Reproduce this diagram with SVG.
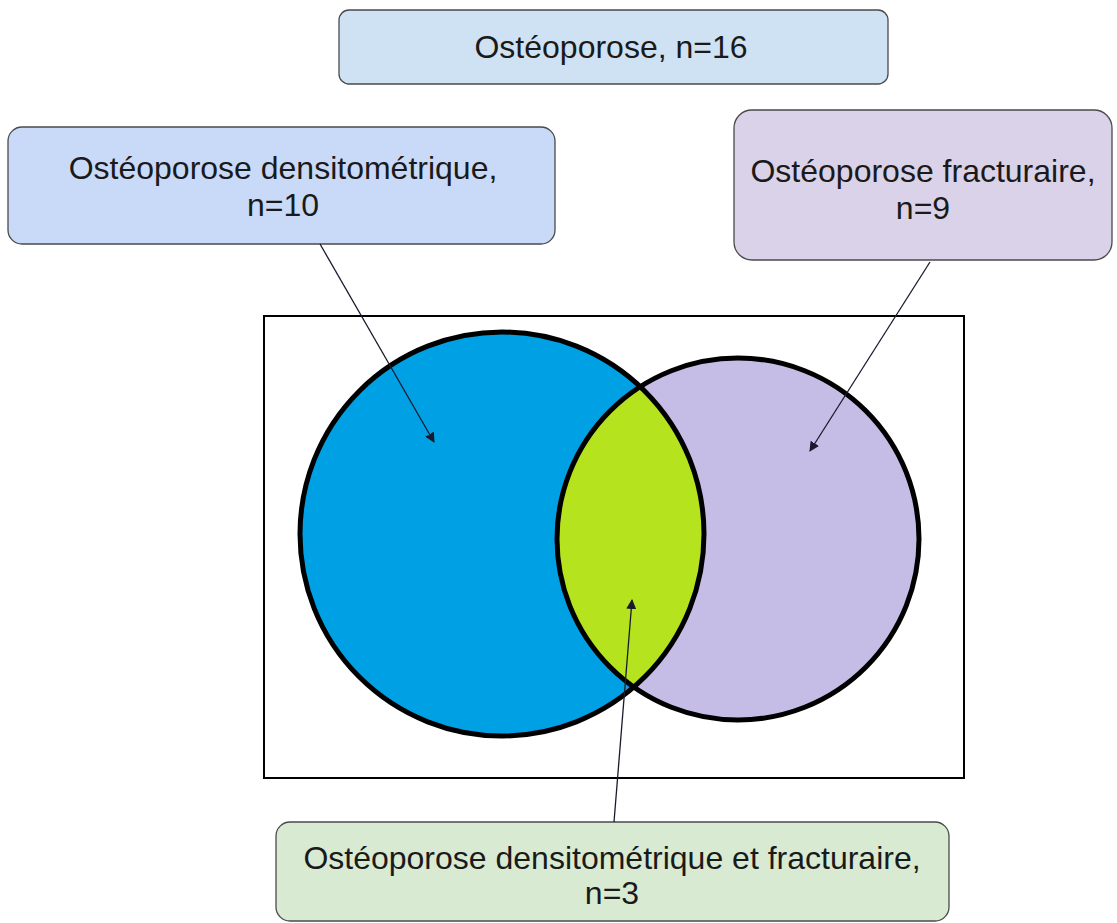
<svg xmlns="http://www.w3.org/2000/svg" width="1117" height="923" viewBox="0 0 1117 923">
<style>
.box{stroke:#4a4a4a;stroke-width:1.3}
.lbl{font-family:"Liberation Sans",Arial,sans-serif;font-size:32px;fill:#1a1a1a;text-anchor:middle}
.ring{fill:none;stroke:#000;stroke-width:5}
.conn{stroke:#1a1a2e;stroke-width:1.3;fill:none;marker-end:url(#ah)}
</style>
<defs>
<marker id="ah" viewBox="0 0 10 10" refX="9" refY="5" markerWidth="10" markerHeight="10" markerUnits="userSpaceOnUse" orient="auto">
<path d="M0,0 L10,5 L0,10 z" fill="#1a1a2e"/>
</marker>
<clipPath id="cl"><circle cx="502" cy="534" r="202"/></clipPath>
</defs>
<rect width="1117" height="923" fill="#fff"/>
<g id="frame"><rect x="264" y="316" width="700" height="462" fill="#fff" stroke="#000" stroke-width="2"/></g>
<g id="venn">
<circle cx="502" cy="534" r="202" fill="#00a0e4"/>
<circle cx="738" cy="539" r="181" fill="#c6bde6"/>
<circle cx="738" cy="539" r="181" fill="#b5e31e" clip-path="url(#cl)"/>
<circle class="ring" cx="502" cy="534" r="202"/>
<circle class="ring" cx="738" cy="539" r="181"/>
</g>
<g id="n-total"><rect class="box" x="339" y="10" width="549" height="74" rx="10" fill="#cfe2f3"/><text class="lbl" x="611" y="58">Ostéoporose, n=16</text></g>
<g id="n-dens"><rect class="box" x="8" y="127" width="547" height="117" rx="14" fill="#c9daf8"/><text class="lbl" x="283" y="179">Ostéoporose densitométrique,</text><text class="lbl" x="283" y="216">n=10</text></g>
<g id="n-frac"><rect class="box" x="734" y="110" width="378" height="150" rx="18" fill="#d9d2e9"/><text class="lbl" x="923" y="182">Ostéoporose fracturaire,</text><text class="lbl" x="923" y="219">n=9</text></g>
<g id="n-both"><rect class="box" x="276" y="822" width="673" height="99" rx="14" fill="#d9ead3"/><text class="lbl" x="612" y="869">Ostéoporose densitométrique et fracturaire,</text><text class="lbl" x="612" y="904">n=3</text></g>
<g id="connectors">
<line class="conn" x1="320" y1="244" x2="434" y2="442"/>
<line class="conn" x1="930" y1="262" x2="810" y2="451"/>
<line class="conn" x1="614" y1="822" x2="632" y2="600"/>
</g>
</svg>
